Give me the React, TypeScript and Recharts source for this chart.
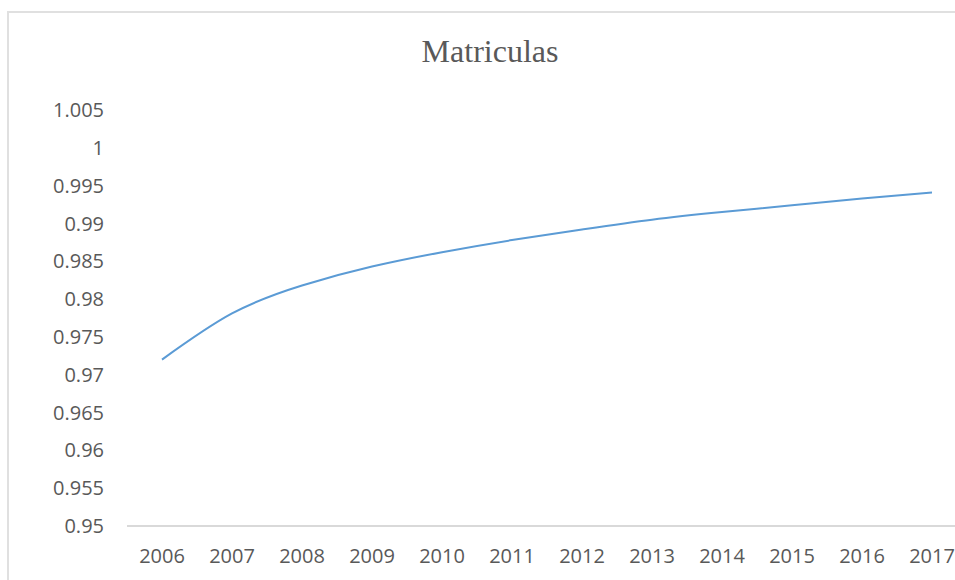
import React from 'react';
import { LineChart, Line, XAxis, YAxis } from 'recharts';

const years: string[] = ['2006', '2007', '2008', '2009', '2010', '2011', '2012', '2013', '2014', '2015', '2016', '2017'];
const matriculas: number[] = [0.972, 0.9781, 0.9818, 0.9843, 0.9862, 0.9878, 0.9892, 0.9905, 0.9915, 0.9924, 0.9933, 0.9941];
const yTicks: number[] = [0.95, 0.955, 0.96, 0.965, 0.97, 0.975, 0.98, 0.985, 0.99, 0.995, 1, 1.005];
const title = 'Matriculas';

const data = years.map((y, i) => ({ year: y, value: matriculas[i] }));

const fmt = (v: number) => String(+v.toFixed(3));

export default function App() {
  return (
    <div style={{ position: 'absolute', left: 0, top: 0, width: 955, height: 580, overflow: 'hidden', background: '#fff' }}>
      <div
        style={{
          position: 'absolute',
          left: 7,
          top: 11,
          width: 1100,
          height: 1000,
          border: '2px solid #e0e0e0',
          boxSizing: 'border-box',
        }}
      />
      <div
        style={{
          position: 'absolute',
          left: 0,
          top: 35,
          width: 980,
          textAlign: 'center',
          fontFamily: '"Liberation Serif", "Times New Roman", serif',
          fontSize: 32,
          lineHeight: '32px',
          color: '#595959',
        }}
      >
        {title}
      </div>
      <div style={{ position: 'absolute', left: 0, top: 0 }}>
        <LineChart width={975} height={580} data={data} margin={{ top: 110, right: 8, bottom: 0, left: 0 }}>
          <XAxis
            dataKey="year"
            height={54}
            padding={{ left: 35, right: 35 }}
            tickLine={false}
            tickSize={0}
            tickMargin={23}
            axisLine={{ stroke: '#d9d9d9', strokeWidth: 2 }}
            tick={{ fill: '#595959', fontSize: 20, fontFamily: '"Open Sans", sans-serif' }}
            interval={0}
          />
          <YAxis
            width={127}
            domain={[0.95, 1.005]}
            ticks={yTicks}
            tickFormatter={fmt}
            axisLine={false}
            tickLine={false}
            tickSize={0}
            tickMargin={23}
            interval={0}
            tick={{ fill: '#595959', fontSize: 20, fontFamily: '"Open Sans", sans-serif' }}
          />
          <Line
            type="natural"
            dataKey="value"
            stroke="#5B9BD5"
            strokeWidth={2}
            dot={false}
            isAnimationActive={false}
          />
        </LineChart>
      </div>
    </div>
  );
}
